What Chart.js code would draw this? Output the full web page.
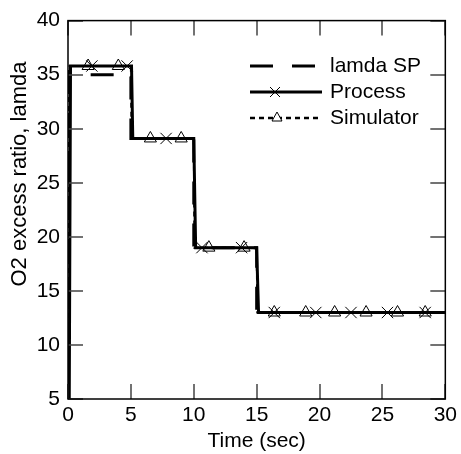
<!DOCTYPE html>
<html>
<head>
<meta charset="utf-8">
<script src="https://cdn.jsdelivr.net/npm/chart.js@4.4.0/dist/chart.umd.min.js"></script>
<style>
  html, body { margin: 0; padding: 0; background: #fff; }
  #wrap { width: 461px; height: 454px; }
</style>
</head>
<body>
<div id="wrap"><canvas id="lamdaChart" width="461" height="454"></canvas></div>
<script>
// --- datos ---
const xTicks = [0, 5, 10, 15, 20, 25, 30];
const yTicks = [5, 10, 15, 20, 25, 30, 35, 40];

// lamda SP (consigna)
const spTime  = [0, 0, 5, 5, 10, 10, 15, 15, 30];
const spLamda = [5, 35, 35, 29.1, 29.1, 19, 19, 13, 13];

// Process (x markers)
const procTime   = [0.1, 0.2, 1.9, 4.7, 5.05, 5.15, 7.8, 10.0, 10.15, 10.65, 13.8, 15.0, 15.15, 16.4, 19.7, 22.5, 25.4, 28.4, 30];
const procLamda  = [5, 35.8, 35.8, 35.8, 35.8, 29.1, 29.1, 29.1, 19.0, 19.0, 19.0, 19.0, 13.0, 13.0, 13.0, 13.0, 13.0, 13.0, 13.0];
const procMarker = [0, 0, 1, 1, 0, 0, 1, 0, 0, 1, 1, 0, 0, 1, 1, 1, 1, 1, 0];

// Simulator (triangulos)
const simTime   = [0, 0.05, 1.6, 4.0, 5.0, 5.05, 6.55, 9.0, 10.0, 10.05, 11.2, 14.0, 15.0, 15.05, 16.4, 18.9, 21.2, 23.7, 26.2, 28.4, 30];
const simLamda  = [5, 35.8, 35.8, 35.8, 35.8, 29.1, 29.1, 29.1, 29.1, 19.0, 19.0, 19.0, 19.0, 13.0, 13.0, 13.0, 13.0, 13.0, 13.0, 13.0, 13.0];
const simMarker = [0, 0, 1, 1, 0, 0, 1, 1, 0, 0, 1, 1, 0, 0, 1, 1, 1, 1, 1, 1, 0];

const FONT = '"Liberation Sans", Arial, sans-serif';

function toPoints(xs, ys) {
    return xs.map((x, i) => ({ x: x, y: ys[i] }));
}

// --- marco, ticks hacia adentro, titulo Y y leyenda ---
const framePlugin = {
    id: 'framePlugin',
    afterDraw(chart) {
        const ctx = chart.ctx;
        const a = chart.chartArea;
        const xs = chart.scales.x;
        const ys = chart.scales.y;
        const tl = 15;

        ctx.save();
        // ticks interiores en los cuatro lados
        ctx.strokeStyle = '#444';
        ctx.lineWidth = 1.5;
        ctx.beginPath();
        xTicks.forEach(v => {
            const px = Math.round(xs.getPixelForValue(v));
            ctx.moveTo(px, a.bottom); ctx.lineTo(px, a.bottom - tl);
            ctx.moveTo(px, a.top); ctx.lineTo(px, a.top + tl);
        });
        yTicks.forEach(v => {
            const py = Math.round(ys.getPixelForValue(v));
            ctx.moveTo(a.left, py); ctx.lineTo(a.left + tl, py);
            ctx.moveTo(a.right, py); ctx.lineTo(a.right - tl, py);
        });
        ctx.stroke();

        // marco
        ctx.strokeStyle = '#000';
        ctx.lineWidth = 1.5;
        ctx.strokeRect(a.left, a.top, a.right - a.left, a.bottom - a.top);

        // titulo eje Y
        ctx.fillStyle = '#000';
        ctx.font = '22px ' + FONT;
        ctx.textAlign = 'center';
        ctx.textBaseline = 'middle';
        ctx.translate(20, 174);
        ctx.rotate(-Math.PI / 2);
        ctx.fillText('O2 excess ratio, lamda', 0, 0);
        ctx.restore();

        // leyenda
        ctx.save();
        ctx.fillStyle = '#000';
        ctx.strokeStyle = '#000';
        ctx.font = '21px ' + FONT;
        ctx.textAlign = 'left';
        ctx.textBaseline = 'middle';

        // lamda SP
        ctx.lineWidth = 3;
        ctx.setLineDash([23, 19]);
        ctx.beginPath(); ctx.moveTo(250, 66); ctx.lineTo(320, 66); ctx.stroke();
        ctx.fillText('lamda SP', 330, 66);

        // Process
        ctx.setLineDash([]);
        ctx.beginPath(); ctx.moveTo(250, 92); ctx.lineTo(322, 92); ctx.stroke();
        ctx.lineWidth = 1;
        ctx.beginPath();
        ctx.moveTo(270, 87); ctx.lineTo(280, 97);
        ctx.moveTo(280, 87); ctx.lineTo(270, 97);
        ctx.stroke();
        ctx.fillText('Process', 330, 92);

        // Simulator
        ctx.lineWidth = 2.5;
        ctx.setLineDash([5, 4]);
        ctx.beginPath(); ctx.moveTo(250, 118); ctx.lineTo(318, 118); ctx.stroke();
        ctx.setLineDash([]);
        ctx.lineWidth = 1;
        ctx.fillStyle = '#fff';
        ctx.beginPath();
        ctx.moveTo(277, 112); ctx.lineTo(282, 121); ctx.lineTo(272, 121); ctx.closePath();
        ctx.fill(); ctx.stroke();
        ctx.fillStyle = '#000';
        ctx.fillText('Simulator', 330, 118);
        ctx.restore();
    }
};

new Chart(document.getElementById('lamdaChart'), {
    type: 'line',
    data: {
        datasets: [
            {
                label: 'Process',
                data: toPoints(procTime, procLamda),
                borderColor: '#000',
                borderWidth: 3,
                pointStyle: 'crossRot',
                pointRadius: procMarker.map(m => m ? 8 : 0),
                pointBorderColor: '#000',
                pointBorderWidth: 1,
                pointBackgroundColor: 'transparent',
                tension: 0
            },
            {
                label: 'lamda SP',
                data: toPoints(spTime, spLamda),
                borderColor: '#000',
                borderWidth: 3,
                borderDash: [23, 19],
                borderDashOffset: 31,
                pointRadius: 0,
                tension: 0
            },
            {
                label: 'Simulator',
                data: toPoints(simTime, simLamda),
                borderColor: '#000',
                borderWidth: 2,
                borderDash: [5, 4],
                pointStyle: 'triangle',
                pointRadius: simMarker.map(m => m ? 7 : 0),
                pointBorderColor: '#000',
                pointBorderWidth: 1,
                pointBackgroundColor: 'transparent',
                tension: 0
            }
        ]
    },
    options: {
        responsive: false,
        animation: false,
        layout: { padding: { top: 19, right: 13, left: 0, bottom: 0 } },
        plugins: {
            legend: { display: false },
            tooltip: { enabled: false }
        },
        scales: {
            x: {
                type: 'linear',
                min: 0,
                max: 30,
                afterFit: s => { s.height = 55; },
                afterBuildTicks: s => { s.ticks = xTicks.map(v => ({ value: v })); },
                grid: { display: false, drawTicks: false },
                border: { display: false },
                ticks: { color: '#000', padding: 4, maxRotation: 0, font: { size: 21, family: FONT } },
                title: {
                    display: true,
                    text: 'Time (sec)',
                    color: '#000',
                    padding: 0,
                    font: { size: 21, family: FONT }
                }
            },
            y: {
                type: 'linear',
                min: 5,
                max: 40,
                afterFit: s => { s.width = 68; },
                afterBuildTicks: s => { s.ticks = yTicks.map(v => ({ value: v })); },
                grid: { display: false, drawTicks: false },
                border: { display: false },
                ticks: { color: '#000', padding: 8, font: { size: 21, family: FONT } }
            }
        }
    },
    plugins: [framePlugin]
});
</script>
</body>
</html>
